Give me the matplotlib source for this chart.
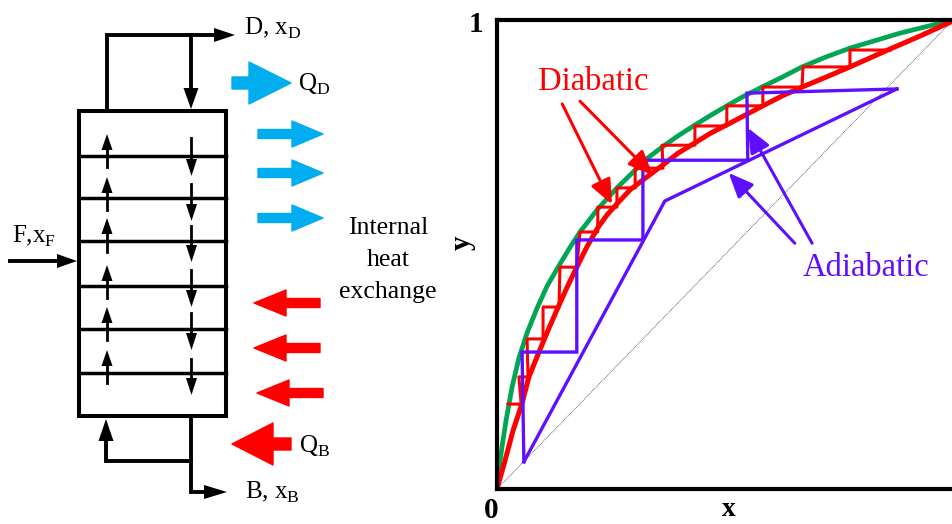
import matplotlib
matplotlib.use('Agg')
import matplotlib.pyplot as plt
from matplotlib.patches import FancyArrowPatch, Polygon

plt.rcParams['font.family'] = ['Liberation Serif', 'DejaVu Serif']
plt.rcParams['mathtext.fontset'] = 'custom'
plt.rcParams['mathtext.rm'] = 'Liberation Serif'

# McCabe-Thiele data
equil_x = [0, .004, .011, .020, .033, .048, .066, .088, .110, .134, .158, .182, .221, .263, .303, .331, .362,
           .397, .434, .469, .504, .542, .581, .625, .669, .721, .774, .884, 1]
equil_y = [0, .041, .090, .147, .217, .279, .333, .386, .433, .473, .512, .548, .597, .642, .680, .706, .729,
           .753, .776, .797, .817, .838, .857, .878, .900, .921, .940, .972, 1]

diab_x = [0, .018, .035, .055, .070, .092, .114, .136, .156, .175, .197, .221, .241, .263, .292, .320, .364,
          .397, .434, .469, .507, .544, .583, .625, .669, .721, .774, .857, .928, 1]
diab_y = [0, .062, .124, .183, .239, .292, .343, .392, .435, .473, .516, .557, .584, .608, .638, .659, .691,
          .716, .738, .759, .778, .797, .817, .838, .857, .878, .900, .936, .966, .998]

diab_step_x = [.024, .053, .048, .068, .066, .101, .101, .136, .138, .175, .182, .221, .221, .263, .263,
               .303, .303, .364, .362, .434, .434, .504, .504, .583, .583, .669, .671, .774, .774, .862]
diab_step_y = [.181, .181, .239, .239, .320, .320, .388, .388, .473, .473, .548, .548, .601, .601, .642,
               .642, .684, .684, .733, .733, .774, .774, .817, .817, .857, .857, .900, .900, .936, .936]

adiab_x = [.059, .368, .877]
adiab_y = [.058, .614, .853]

adiab_step_x = [.877, .548, .550, .320, .320, .175, .175, .055, .059]
adiab_step_y = [.853, .844, .701, .701, .531, .531, .292, .292, .058]

RED = '#ff0000'
PURPLE = '#5f0fff'
GREEN = '#00a651'
BLUE = '#00aeef'

fig = plt.figure(figsize=(9.53, 5.24), dpi=100)

# chart on the right
ax = fig.add_axes([497 / 953, 1 - 489 / 524, 456 / 953, 469 / 524])
ax.set_xlim(0, 1)
ax.set_ylim(0, 1)
ax.set_xticks([])
ax.set_yticks([])
ax.spines['right'].set_visible(False)
for s in ['left', 'top', 'bottom']:
    ax.spines[s].set_linewidth(3)

ax.plot([0, 1], [0, 1], color='#444444', lw=0.6, linestyle=(0, (1, 1)))
ax.plot(equil_x, equil_y, color=GREEN, lw=3.4, solid_joinstyle='round')
ax.plot(diab_x, diab_y, color=RED, lw=3.6, solid_joinstyle='round')
ax.plot(diab_step_x, diab_step_y, color=RED, lw=2.2)
ax.plot(adiab_x, adiab_y, color=PURPLE, lw=2.4, solid_joinstyle='miter')
ax.plot(adiab_step_x, adiab_step_y, color=PURPLE, lw=2.4, solid_joinstyle='miter')


def pointer(start, end, color):
    ax.add_patch(FancyArrowPatch(start, end, color=color, lw=2.2, shrinkA=0, shrinkB=0,
                                 arrowstyle='-|>,head_length=0.75,head_width=0.32',
                                 mutation_scale=20, zorder=6))


pointer((.143, .821), (.252, .607), RED)
pointer((.182, .827), (.342, .669), RED)
pointer((.653, .524), (.508, .674), PURPLE)
pointer((.691, .524), (.550, .770), PURPLE)

ax.text(.21, .868, 'Diabatic', color=RED, fontsize=23.5, ha='center', va='center')
ax.text(.81, .472, 'Adiabatic', color=PURPLE, fontsize=23.5, ha='center', va='center')

# schematic and outer labels, in picture pixels
sk = fig.add_axes([0, 0, 1, 1], facecolor='none')
sk.set_xlim(0, 953)
sk.set_ylim(524, 0)
sk.axis('off')

sk.text(476, 24, '1', fontsize=21, fontweight='bold', ha='center', va='center')
sk.text(491, 510, '0', fontsize=21, fontweight='bold', ha='center', va='center')
sk.text(729, 509, 'x', fontsize=20, fontweight='bold', ha='center', va='center')
sk.text(462, 243, 'y', fontsize=21, fontweight='bold', ha='center', va='center', rotation=90)


def line(xs, ys, lw=2.8):
    sk.plot(xs, ys, color='black', lw=lw, solid_capstyle='projecting', solid_joinstyle='miter')


def head_h(base, tip, y, half=7):
    sk.add_patch(Polygon([(base, y - half), (tip, y), (base, y + half)], color='black', lw=0))


def head_v(x, base, tip, half=7.5):
    sk.add_patch(Polygon([(x - half, base), (x, tip), (x + half, base)], color='black', lw=0))


def block(tail, base, tip, y, shaft, head, color):
    pts = [(tail, y - shaft), (base, y - shaft), (base, y - head), (tip, y),
           (base, y + head), (base, y + shaft), (tail, y + shaft)]
    sk.add_patch(Polygon(pts, facecolor=color, edgecolor=color, lw=1, joinstyle='round'))


# column
line([79, 226, 226, 79, 79], [111, 111, 416, 416, 111], lw=2.9)
for y in [156, 198, 241, 286, 329, 373]:
    line([79, 226], [y, y], lw=2.5)

# overhead and reflux
line([107, 107, 216], [111, 35, 35])
head_h(214, 235, 35)
line([191, 191], [35, 90])
head_v(191, 88, 109)

# reboiler and bottoms
line([191, 191, 206], [416, 492, 492])
head_h(204, 227, 492)
line([191, 106, 106], [461, 461, 440])
head_v(106, 441, 419)

# feed
line([10, 59], [261, 261])
head_h(57, 77, 261)

# vapour up, liquid down inside the trays
up_tip = [134, 177, 218, 265, 307, 350]
up_tail = [167, 210, 252, 298, 340, 383]
for tip, tail in zip(up_tip, up_tail):
    sk.plot([107, 107], [tail, tip + 10], color='black', lw=2)
    head_v(107, tip + 16, tip, half=5.5)

down_tail = [138, 184, 226, 270, 313, 359]
down_tip = [176, 221, 262, 307, 350, 395]
for tail, tip in zip(down_tail, down_tip):
    sk.plot([191.5, 191.5], [tail, tip - 10], color='black', lw=2)
    head_v(191.5, tip - 17, tip, half=5.5)

# heat arrows
block(232, 249, 291, 83, 6, 21, BLUE)
for y in [134, 173, 218]:
    block(258, 292, 323, y, 4.5, 13, BLUE)
block(320, 286, 254, 303, 4.5, 13, RED)
block(320, 286, 254, 348, 4.5, 13, RED)
block(323, 289, 257, 393, 4.5, 13, RED)
block(291, 273, 232, 444, 6, 21, RED)

sk.text(244, 28, r'D, x$_{\mathrm{D}}$', fontsize=18, ha='left', va='center')
sk.text(298, 84, r'Q$_{\mathrm{D}}$', fontsize=18, ha='left', va='center')
sk.text(12, 236, r'F,x$_{\mathrm{F}}$', fontsize=18, ha='left', va='center')
sk.text(299, 446, r'Q$_{\mathrm{B}}$', fontsize=18, ha='left', va='center')
sk.text(245, 492, r'B, x$_{\mathrm{B}}$', fontsize=18, ha='left', va='center')
sk.text(388, 228, 'Internal', fontsize=18.5, ha='center', va='center')
sk.text(388, 260, 'heat', fontsize=18.5, ha='center', va='center')
sk.text(388, 292, 'exchange', fontsize=18.5, ha='center', va='center')

fig.savefig('out.png', dpi=100)
